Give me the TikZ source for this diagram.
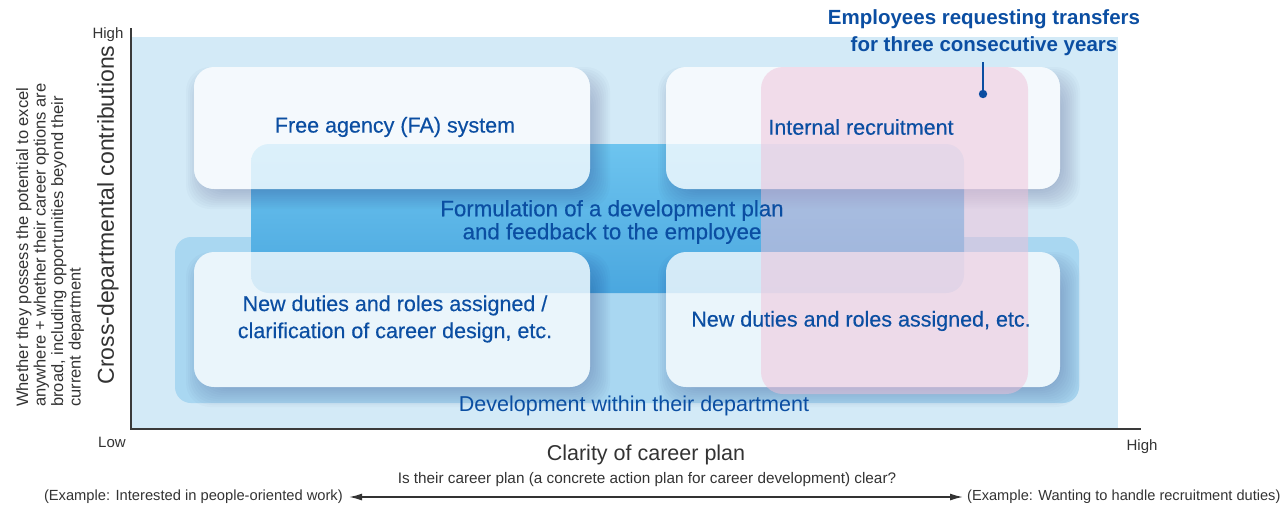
\documentclass[tikz,border=0pt]{standalone}
\usepackage{fontspec}
\setmainfont{Liberation Sans}
\newfontfamily\medfont[FakeBold=0.35]{Liberation Sans}
\usetikzlibrary{arrows.meta}
\definecolor{bgblue}{HTML}{D3EAF7}
\definecolor{devblue}{HTML}{A9D7F1}
\definecolor{midtop}{HTML}{6DC4EF}
\definecolor{midbot}{HTML}{4AA7DF}
\definecolor{pinkc}{HTML}{F0C0D8}
\definecolor{txtblue}{HTML}{0B4EA2}
\definecolor{axisgray}{HTML}{3A3A3A}
\definecolor{labelgray}{HTML}{333333}
\tikzset{
  whitebox/.style={fill=white, fill opacity=0.76, rounded corners=20pt, draw=none},
  shadowbox/.style={fill=black!70!blue, fill opacity=0.018, rounded corners=24pt, draw=none},
  boxtext/.style={text=txtblue, align=center, font=\medfont\fontsize{21.5}{27}\selectfont, inner sep=0pt},
  axislabel/.style={text=labelgray, font=\fontsize{15}{17}\selectfont, inner sep=0pt},
}
\newcommand{\softshadow}[4]{%
  \begin{scope}[even odd rule, rounded corners=20pt]
  \clip (0,0) rectangle (1281,509) (#1,#2) rectangle (#3,#4);
  \foreach \d in {0,2,...,18} {
    \fill[shadowbox] (#1+\d-8,#2+\d) rectangle (#3+20-\d,#4+20-\d);
  }
  \end{scope}}
\begin{document}
\begin{tikzpicture}[x=1pt,y=-1pt]
\useasboundingbox (0,0) rectangle (1281,509);
% background
\fill[bgblue] (131,37) rectangle (1118,429);
% development box
\fill[devblue, rounded corners=16pt] (175,237) rectangle (1079,403);
% middle box
\shade[top color=midtop, bottom color=midbot, rounded corners=18pt] (251,144) rectangle (964,293);
% soft shadows
\softshadow{194}{67}{590}{189}
\softshadow{666}{67}{1060}{189}
\softshadow{194}{252}{590}{387}
\softshadow{666}{252}{1060}{387}
% white boxes
\fill[whitebox] (194,67) rectangle (590,189);
\fill[whitebox] (666,67) rectangle (1060,189);
\fill[whitebox] (194,252) rectangle (590,387);
\fill[whitebox] (666,252) rectangle (1060,387);
% pink box
\fill[pinkc, fill opacity=0.5, rounded corners=22pt] (761,67) rectangle (1028,394);
% axes
\coordinate (ytop) at (131,28);
\coordinate (origin) at (131,429);
\coordinate (xend) at (1141,429);
\draw[axisgray, line width=1.3pt] (ytop) -- (origin) -- (xend);
% box texts
\node[boxtext] (fa) at (395,127) {Free agency (FA) system};
\node[boxtext] (ir) at (861,127) {Internal recruitment};
\node[boxtext, font=\medfont\fontsize{22.3}{23}\selectfont] (form) at (612,222) {Formulation of a development plan\\and feedback to the employee};
\node[boxtext] (ndl) at (395,319) {New duties and roles assigned /\\clarification of career design, etc.};
\node[boxtext] (ndr) at (861,321) {New duties and roles assigned, etc.};
\node[boxtext, font=\fontsize{21.5}{27}\selectfont] (dev) at (634,406) {Development within their department};
% annotation
\node[boxtext, font=\bfseries\fontsize{20.5}{27}\selectfont] (ann) at (984,33) {Employees requesting transfers\\for three consecutive years};
\coordinate (dot) at (983,94);
\draw[txtblue, line width=1.2pt] (983,62) -- (dot);
\fill[txtblue] (dot) circle (4.2pt);
% axis labels
\node[axislabel] (yhigh) at (108,35) {High};
\node[axislabel] (ylow) at (112,442) {Low};
\node[axislabel] (xhigh) at (1142,447) {High};
\node[text=labelgray, font=\fontsize{21.5}{25}\selectfont, inner sep=0pt] (xtitle) at (646,455) {Clarity of career plan};
\node[axislabel, font=\fontsize{15.3}{17}\selectfont] (xsub) at (647,480) {Is their career plan (a concrete action plan for career development) clear?};
\node[axislabel, font=\fontsize{14.7}{17}\selectfont, anchor=east] (exl) at (343,497) {(Example: Interested in people-oriented work)};
\node[axislabel, font=\fontsize{14.6}{17}\selectfont, anchor=west] (exr) at (967,497) {(Example: Wanting to handle recruitment duties)};
\draw[labelgray, line width=1.5pt, {Latex[length=13pt,width=7pt]}-{Latex[length=13pt,width=7pt]}] (exl.east) ++(6,0) -- ([xshift=-4pt]exr.west);
\node[text=labelgray, font=\fontsize{23}{25}\selectfont, rotate=90, inner sep=0pt] (ytitle) at (108,215) {Cross-departmental contributions};
\node[axislabel, font=\fontsize{16.5}{17.5}\selectfont, rotate=90, align=left, anchor=north west] (ysub) at (16,407) {Whether they possess the potential to excel\\anywhere + whether their career options are\\broad, including opportunities beyond their\\current department};
\end{tikzpicture}
\end{document}
